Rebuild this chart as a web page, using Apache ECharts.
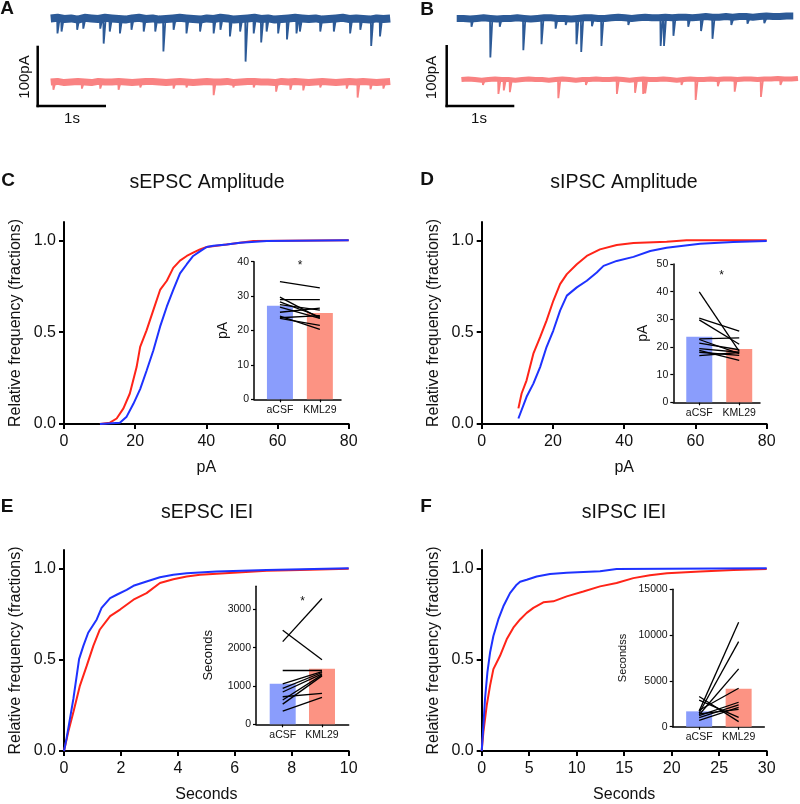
<!DOCTYPE html>
<html><head><meta charset="utf-8">
<script src="https://cdn.jsdelivr.net/npm/echarts@6/dist/echarts.min.js"></script>
<style>html,body{margin:0;padding:0;background:#fff}#c{width:800px;height:804px}</style>
</head><body><div id="c"></div>
<script>
// ---------------- DATA ----------------
const groups = ['aCSF', 'KML29'];

// Example traces (pA relative to baseline), baseline sampled every TRACE_STEP s
const TRACE_STEP = 0.1;
const traceABlueBase = [1,2,0,1,-1,2,1,0,2,1, 0,-1,1,2,0,1,-1,0,1,2, 1,0,-1,1,0,2,1,-1,0,1, 2,0,1,-1,0,1,2,1,0,1, -1,0,1,2,0,1,0,-1,1,0, 1];
const traceARedBase  = [0,1,-1,0,1,0,-1,1,0,0, 1,0,-1,0,1,1,0,-1,0,1, 0,-1,0,1,0,0,1,-1,0,1, 1,0,0,-1,1,0,1,0,-1,0, 1,0,-1,0,1,0,1,0,-1,0, 1];
const traceBBlueBase = [0,0,-1,0,1,0,-1,0,0,1, 0,-1,0,1,1,0,0,-1,0,1, 1,0,0,1,2,1,0,1,2,1, 1,2,1,2,2,1,2,3,2,2, 3,2,3,3,2,3,4,3,3,4, 4];
const traceBRedBase  = [0,1,0,-1,0,1,0,0,-1,0, 1,0,0,-1,0,1,0,-1,0,0, 1,0,0,1,0,-1,0,1,0,0, 1,0,-1,0,1,0,0,1,0,1, 1,0,1,1,0,1,1,2,1,1, 2];
// events: [time s, amplitude pA]
const traceABlueEvents = [[0.10,24],[0.16,21],[0.39,18],[0.48,16],[0.73,16],[0.78,41],[0.87,21],[1.02,24],[1.19,18],[1.37,21],[1.54,21],[1.66,54],[1.81,18],[2.00,24],[2.20,21],[2.40,24],[2.50,18],[2.64,29],[2.79,21],[2.87,71],[2.99,24],[3.10,39],[3.18,21],[3.35,24],[3.48,34],[3.62,24],[3.67,21],[3.97,21],[4.17,21],[4.41,24],[4.56,18],[4.72,45],[4.85,29]];
const traceARedEvents = [[0.04,13],[0.46,11],[0.73,11],[1.00,13],[1.32,9],[1.81,11],[2.00,9],[2.40,22],[2.69,9],[2.99,9],[3.32,16],[3.53,13],[3.72,14],[3.97,9],[4.36,11],[4.52,26],[4.71,12],[4.90,11]];
const traceBBlueEvents = [[0.22,14],[0.50,65],[0.64,14],[0.99,53],[1.26,43],[1.47,17],[1.62,11],[1.78,43],[1.85,56],[2.01,13],[2.15,46],[2.55,11],[3.03,46],[3.08,46],[3.22,29],[3.44,14],[3.63,21],[3.80,34],[4.08,11],[4.32,9],[4.57,8]];
const traceBRedEvents = [[0.39,9],[0.62,24],[0.70,18],[0.79,21],[1.51,31],[1.92,9],[2.38,24],[2.65,22],[2.77,24],[2.80,23],[3.34,9],[3.55,34],[3.88,11],[4.13,20],[4.52,29],[4.81,9]];

// Cumulative distributions [x, fraction]
const sEpscAmpAcsf = [[10.1,0],[15.7,0.007],[17.6,0.04],[19.5,0.11],[21.4,0.19],[23.2,0.29],[25.1,0.40],[27.0,0.53],[28.9,0.64],[30.7,0.73],[32.6,0.82],[34.5,0.87],[36.3,0.915],[38.2,0.94],[40.1,0.964],[42.0,0.971],[45.7,0.978],[49.5,0.987],[57.0,0.996],[80,1.0]];
const sEpscAmpKml  = [[10.1,0],[12.9,0.007],[14.8,0.03],[16.7,0.085],[18.5,0.166],[20.4,0.31],[21.4,0.42],[23.2,0.51],[25.1,0.62],[27.0,0.73],[28.9,0.78],[30.7,0.85],[32.6,0.89],[34.5,0.915],[36.3,0.933],[38.2,0.951],[40.1,0.964],[45.7,0.978],[53.2,0.996],[80,1.0]];
const sIpscAmpAcsf = [[10.3,0.03],[12.6,0.148],[14.5,0.22],[16.4,0.31],[18.2,0.419],[20.1,0.509],[22.0,0.617],[23.9,0.699],[26.7,0.744],[29.5,0.78],[32.3,0.825],[34.2,0.861],[37.9,0.888],[42.6,0.91],[47.3,0.942],[51.9,0.96],[61.3,0.982],[70.6,0.991],[80,0.996]];
const sIpscAmpKml  = [[10.3,0.085],[11.2,0.166],[12.6,0.238],[14.5,0.383],[16.4,0.473],[18.2,0.563],[20.1,0.671],[22.0,0.762],[23.9,0.816],[26.7,0.87],[29.5,0.915],[33.2,0.951],[37.9,0.975],[42.6,0.986],[51.9,0.993],[57.5,1.0],[80,1.0]];
const sEpscIeiAcsf = [[0,0],[0.09,0.069],[0.21,0.177],[0.33,0.286],[0.53,0.503],[0.68,0.575],[0.85,0.647],[1.15,0.72],[1.32,0.783],[1.62,0.837],[1.85,0.855],[2.2,0.882],[2.44,0.904],[2.9,0.928],[3.37,0.951],[3.84,0.964],[4.31,0.973],[5.36,0.982],[7.12,0.991],[10,1.0]];
const sEpscIeiKml  = [[0,0],[0.15,0.105],[0.33,0.213],[0.56,0.358],[0.8,0.467],[1.03,0.575],[1.26,0.665],[1.62,0.738],[1.97,0.774],[2.44,0.828],[2.9,0.864],[3.37,0.919],[3.84,0.94],[4.31,0.955],[4.78,0.964],[5.95,0.976],[7.12,0.986],[8.29,0.991],[10,0.998]];
const sIpscIeiAcsf = [[0,0],[0.18,0.141],[0.35,0.286],[0.6,0.43],[0.88,0.539],[1.23,0.629],[1.75,0.72],[2.28,0.792],[2.98,0.864],[3.68,0.91],[4.04,0.926],[4.74,0.937],[5.79,0.955],[7.19,0.969],[8.95,0.976],[12.46,0.984],[14.2,0.996],[30,1.0]];
const sIpscIeiKml  = [[0,0],[0.18,0.105],[0.53,0.25],[0.88,0.358],[1.23,0.448],[1.93,0.521],[2.63,0.611],[3.33,0.675],[4.04,0.72],[4.74,0.756],[5.44,0.783],[6.49,0.814],[7.54,0.819],[8.95,0.846],[10.7,0.873],[12.46,0.901],[14.2,0.919],[15.96,0.946],[17.7,0.962],[19.5,0.973],[23,0.982],[26.5,0.991],[30,0.996]];

// Inset means and paired cells
const cMeans = [27.2, 25.1];
const cAcsf = [34.2,29.7,29.0,28.3,27.5,26.8,25.3,24.2,23.7,23.5];
const cKml  = [32.4,23.6,29.0,24.0,25.9,23.5,26.5,20.3,24.3,21.5];
const dMeans = [23.7, 19.3];
const dAcsf = [39.9,30.4,29.8,22.9,22.7,21.4,19.4,18.8,18.1,16.9];
const dKml  = [18.4,25.7,21.0,23.3,17.6,19.0,18.1,15.2,17.0,18.0];
const eMeans = [1055, 1447];
const eAcsf = [2158,2456,1404,1053,939,842,719,632,526,342];
const eKml  = [3281,1684,1404,1377,1351,1316,807,1289,1263,702];
const fMeans = [1675, 4150];
const fAcsf = [1700,1500,1300,3300,1800,1200,1000,2900,700,1400];
const fKml  = [11400,9290,6310,550,4200,2670,2370,1020,2110,1890];

// ---------------- STYLE ----------------
const FONT = '"Liberation Sans", Arial, Helvetica, sans-serif';
const TXT = '#111';
const BLUE = '#1e32ff', RED = '#ff2418';
const BAR_BLUE = '#8a9dfc', BAR_RED = '#fc9383';
const TR_BLUE = '#2c5a97', TR_RED = '#f98282';

const grids = [
  {left:50.7, top:7, width:346.3, height:120},
  {left:456.7, top:7, width:346.3, height:120},
  {left:64, top:222, width:284.7, height:202},
  {left:481.7, top:222, width:285, height:202},
  {left:64, top:550, width:284.7, height:202.7},
  {left:481.7, top:550, width:285, height:202.7},
  {left:254, top:261.7, width:87, height:137.6},
  {left:673.3, top:264, width:86.7, height:138.3},
  {left:256, top:586.3, width:92.7, height:138},
  {left:672.7, top:589.3, width:91.6, height:137.4}
];
const xAxes = [], yAxes = [], series = [];

// trace grids
[0,1].forEach(g => {
  xAxes.push({type:'value', gridIndex:g, min:0, max:5.1, show:false});
  yAxes.push({type:'value', gridIndex:g, min:-180, max:20, show:false});
});

function mainAxes(g, xmax, xint, xname) {
  xAxes.push({type:'value', gridIndex:g, min:0, max:xmax, interval:xint,
    name:xname, nameLocation:'middle', nameGap:36,
    nameTextStyle:{fontSize:16, color:TXT, fontFamily:FONT},
    axisLine:{show:true, lineStyle:{color:'#000', width:2}},
    axisTick:{show:true, length:5, lineStyle:{color:'#000', width:2}},
    axisLabel:{fontSize:16, color:TXT, fontFamily:FONT, margin:10},
    splitLine:{show:false}});
  yAxes.push({type:'value', gridIndex:g, min:0, max:1.1,
    name:'Relative frequency (fractions)', nameLocation:'middle', nameGap:40,
    nameTextStyle:{fontSize:16, color:TXT, fontFamily:FONT},
    axisLine:{show:true, lineStyle:{color:'#000', width:2}},
    axisTick:{show:true, length:5, customValues:[0,0.5,1], lineStyle:{color:'#000', width:2}},
    axisLabel:{fontSize:16, color:TXT, fontFamily:FONT, margin:8, customValues:[0,0.5,1],
      formatter:v => Number(v).toFixed(1)},
    splitLine:{show:false}});
}
mainAxes(2, 80, 20, 'pA');
mainAxes(3, 80, 20, 'pA');
mainAxes(4, 10, 2, 'Seconds');
mainAxes(5, 30, 5, 'Seconds');

function insetAxes(g, xmin, xmax, ymax, yint, yCustom, yname, nameSize, nameGap) {
  xAxes.push({type:'value', gridIndex:g, min:xmin, max:xmax,
    axisLine:{show:true, lineStyle:{color:'#000', width:1.5}},
    axisTick:{show:true, length:3, customValues:[1,2], lineStyle:{color:'#000', width:1.2}},
    axisLabel:{fontSize:10.5, color:TXT, fontFamily:FONT, margin:5, customValues:[1,2],
      formatter:v => groups[Math.round(v)-1] || ''},
    splitLine:{show:false}});
  const y = {type:'value', gridIndex:g, min:0, max:ymax,
    name:yname, nameLocation:'middle', nameGap:nameGap,
    nameTextStyle:{fontSize:nameSize, color:TXT, fontFamily:FONT},
    axisLine:{show:true, lineStyle:{color:'#000', width:1.5}},
    axisTick:{show:true, length:3, lineStyle:{color:'#000', width:1.2}},
    axisLabel:{fontSize:10.5, color:TXT, fontFamily:FONT, margin:5, formatter:v => String(v)},
    splitLine:{show:false}};
  if (yint) y.interval = yint;
  if (yCustom) { y.axisTick.customValues = yCustom; y.axisLabel.customValues = yCustom; }
  yAxes.push(y);
}
insetAxes(6, 0.35, 2.53, 40, 10, null, 'pA', 14, 24);
insetAxes(7, 0.35, 2.52, 50, 10, null, 'pA', 14, 23);
insetAxes(8, 0.32, 2.68, 3600, null, [0,1000,2000,3000], 'Seconds', 13, 41);
insetAxes(9, 0.33, 2.65, 15000, 5000, null, 'Secondss', 11, 44);

// traces
function addTrace(g, base, events, offset, t0, color, bandWidth) {
  series.push({type:'line', xAxisIndex:g, yAxisIndex:g, symbol:'none', animation:false,
    lineStyle:{color:color, width:bandWidth, cap:'butt', join:'bevel'},
    data: base.map((v,i) => [t0 + i*TRACE_STEP, v + offset])});
  const d = [];
  events.forEach(([t,a]) => { d.push([t-0.005, offset], [t, offset - a], [t+0.03, offset], '-'); });
  series.push({type:'line', xAxisIndex:g, yAxisIndex:g, symbol:'none', animation:false,
    connectNulls:false, lineStyle:{color:color, width:1.8}, data:d});
}
addTrace(0, traceABlueBase, traceABlueEvents, 0, 0, TR_BLUE, 8);
addTrace(0, traceARedBase, traceARedEvents, -105, 0, TR_RED, 7);
addTrace(1, traceBBlueBase, traceBBlueEvents, 1, 0, TR_BLUE, 7);
addTrace(1, traceBRedBase, traceBRedEvents, -101, 0.07, TR_RED, 5);

// cumulative curves
function addCurves(g, acsf, kml) {
  series.push({type:'line', xAxisIndex:g, yAxisIndex:g, symbol:'none', data:kml, lineStyle:{color:RED, width:2}});
  series.push({type:'line', xAxisIndex:g, yAxisIndex:g, symbol:'none', data:acsf, lineStyle:{color:BLUE, width:2}});
}
addCurves(2, sEpscAmpAcsf, sEpscAmpKml);
addCurves(3, sIpscAmpAcsf, sIpscAmpKml);
addCurves(4, sEpscIeiAcsf, sEpscIeiKml);
addCurves(5, sIpscIeiAcsf, sIpscIeiKml);

// insets
function addInset(g, means, a, k) {
  series.push({type:'bar', xAxisIndex:g, yAxisIndex:g, barWidth:26,
    data:[{value:[1, means[0]], itemStyle:{color:BAR_BLUE}}, {value:[2, means[1]], itemStyle:{color:BAR_RED}}]});
  a.forEach((v,i) => series.push({type:'line', xAxisIndex:g, yAxisIndex:g, symbol:'none', z:5,
    data:[[1,v],[2,k[i]]], lineStyle:{color:'#000', width:1.3}}));
}
addInset(6, cMeans, cAcsf, cKml);
addInset(7, dMeans, dAcsf, dKml);
addInset(8, eMeans, eAcsf, eKml);
addInset(9, fMeans, fAcsf, fKml);

// annotations
function txt(s, x, y, size, bold, rot) {
  return {type:'text', x:x, y:y, rotation:rot||0, z:10,
    style:{text:s, fill:TXT, font:(bold?'bold ':'') + size + 'px ' + FONT, textAlign:'center', textVerticalAlign:'middle'}};
}
function ln(x1,y1,x2,y2) {
  return {type:'line', z:10, shape:{x1:x1,y1:y1,x2:x2,y2:y2}, style:{stroke:'#000', lineWidth:2.5}};
}
const graphic = [
  txt('A', 7, 9, 19, true), txt('B', 427, 10, 19, true),
  txt('C', 8, 181, 19, true), txt('D', 427, 180, 19, true),
  txt('E', 7, 507, 19, true), txt('F', 426, 507, 19, true),
  txt('sEPSC Amplitude', 207, 183, 19.5), txt('sIPSC Amplitude', 624, 183, 19.5),
  txt('sEPSC IEI', 207, 513, 19.5), txt('sIPSC IEI', 624, 513, 19.5),
  txt('*', 300, 266, 12), txt('*', 721.7, 276, 12), txt('*', 302.7, 602, 12),
  ln(37.7, 45.7, 37.7, 107.2), ln(36.5, 106, 106, 106),
  ln(446.7, 45, 446.7, 107.2), ln(445.5, 106, 514.3, 106),
  txt('100pA', 25, 77, 15, false, Math.PI/2), txt('1s', 72, 119, 15),
  txt('100pA', 431.5, 77.5, 15, false, Math.PI/2), txt('1s', 479, 119, 15)
];

const chart = echarts.init(document.getElementById('c'), null, {renderer:'canvas'});
chart.setOption({
  animation:false, backgroundColor:'#fff',
  textStyle:{fontFamily:FONT},
  grid:grids, xAxis:xAxes, yAxis:yAxes, series:series, graphic:graphic
});
</script></body></html>
